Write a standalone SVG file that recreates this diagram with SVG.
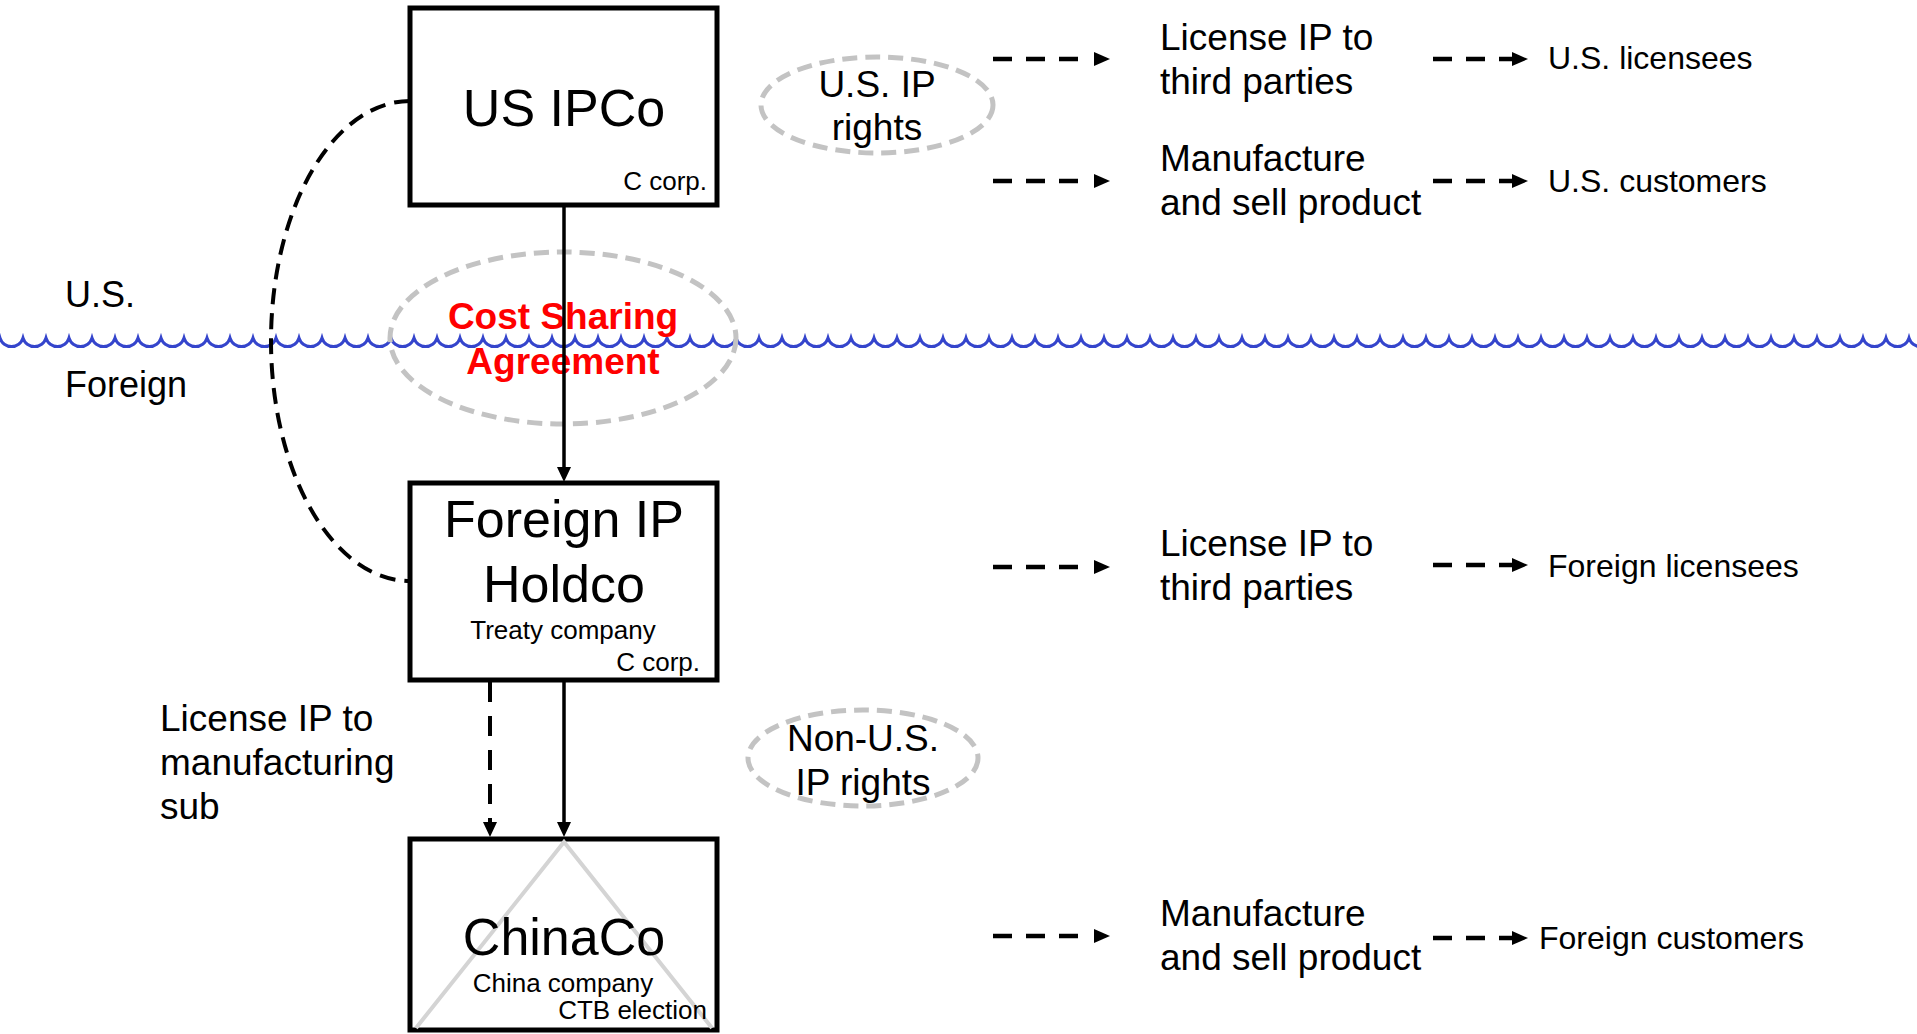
<svg xmlns="http://www.w3.org/2000/svg" xmlns:xlink="http://www.w3.org/1999/xlink" width="1917" height="1034" viewBox="0 0 1917 1034">
<style>
text{font-family:"Liberation Sans",Arial,Helvetica,sans-serif;fill:#000}
.big{font-size:52px;text-anchor:middle}
.small{font-size:26px}
.mid{font-size:37px}
.end{font-size:32px}
.box{fill:#fff;stroke:#000;stroke-width:5}
.oval{fill:none;stroke:#c3c3c3;stroke-width:5;stroke-dasharray:15 8}
.red{font-size:37px;font-weight:bold;fill:#f00;text-anchor:middle}
.c{text-anchor:middle}
.r{text-anchor:end}
.solid{stroke:#000;stroke-width:3.5;fill:none}
.dash{stroke:#000;stroke-width:4.5;fill:none;stroke-dasharray:19 14}
.curve{stroke:#000;stroke-width:4;fill:none;stroke-dasharray:16 9}
</style>
<defs>
<path id="headR" d="M0,-7 L16,0 L0,7 z" fill="#000"/>
<path id="headD" d="M-7,0 L7,0 L0,15 z" fill="#000"/>
<pattern id="wave" patternUnits="userSpaceOnUse" x="0" y="330" width="23" height="26">
<path d="M-23,8 a12,12 0 0 0 23,0 a12,12 0 0 0 23,0 a12,12 0 0 0 23,0" fill="none" stroke="#3545cc" stroke-width="3"/>
</pattern>
</defs>
<rect width="1917" height="1034" fill="#fff"/>

<g id="border">
<rect x="0" y="330" width="1917" height="26" fill="url(#wave)"/>
<text x="65" y="307" class="mid" style="font-size:36px">U.S.</text>
<text x="65" y="397" class="mid" style="font-size:36px">Foreign</text>
</g>

<g id="cost-sharing">
<ellipse cx="563" cy="338" rx="173" ry="86" class="oval"/>
<text x="563" y="329" class="red">Cost Sharing</text>
<text x="563" y="374" class="red">Agreement</text>
</g>

<g id="us-ip-rights">
<ellipse cx="877" cy="105" rx="116" ry="48" class="oval"/>
<text x="877" y="97" class="mid c">U.S. IP</text>
<text x="877" y="140" class="mid c">rights</text>
</g>

<g id="non-us-ip-rights">
<ellipse cx="863" cy="758" rx="115" ry="48" class="oval"/>
<text x="863" y="751" class="mid c">Non-U.S.</text>
<text x="863" y="795" class="mid c">IP rights</text>
</g>

<g id="us-license">
<text x="1160" y="50" class="mid">License IP to</text>
<text x="1160" y="94" class="mid">third parties</text>
</g>
<g id="us-manufacture">
<text x="1160" y="171" class="mid">Manufacture</text>
<text x="1160" y="215" class="mid">and sell product</text>
</g>
<g id="foreign-license">
<text x="1160" y="556" class="mid">License IP to</text>
<text x="1160" y="600" class="mid">third parties</text>
</g>
<g id="foreign-manufacture">
<text x="1160" y="926" class="mid">Manufacture</text>
<text x="1160" y="970" class="mid">and sell product</text>
</g>

<g id="us-licensees"><text x="1548" y="69" class="end">U.S. licensees</text></g>
<g id="us-customers"><text x="1548" y="192" class="end">U.S. customers</text></g>
<g id="foreign-licensees"><text x="1548" y="577" class="end">Foreign licensees</text></g>
<g id="foreign-customers"><text x="1539" y="949" class="end">Foreign customers</text></g>

<g id="license-manufacturing-label">
<text x="160" y="731" class="mid">License IP to</text>
<text x="160" y="775" class="mid">manufacturing</text>
<text x="160" y="819" class="mid">sub</text>
</g>

<g id="us-ipco">
<rect x="410" y="8" width="307" height="197" class="box"/>
<text x="564" y="126" class="big">US IPCo</text>
<text x="707" y="190" class="small r">C corp.</text>
</g>

<g id="foreign-ip-holdco">
<rect x="410" y="483" width="307" height="197" class="box"/>
<text x="564" y="537" class="big">Foreign IP</text>
<text x="564" y="602" class="big">Holdco</text>
<text x="563" y="639" class="small c">Treaty company</text>
<text x="700" y="671" class="small r">C corp.</text>
</g>

<g id="chinaco">
<rect x="410" y="839" width="307" height="191" class="box"/>
<polyline points="416,1028 564,842 712,1028" fill="none" stroke="#d4d4d4" stroke-width="4"/>
<text x="564" y="955" class="big">ChinaCo</text>
<text x="563" y="992" class="small c">China company</text>
<text x="707" y="1019" class="small r">CTB election</text>
</g>

<g id="connectors">
<path d="M410,101 A139,240 0 0 0 410,581" class="curve"/>
<line x1="564" y1="207" x2="564" y2="470" class="solid"/>
<use xlink:href="#headD" x="564" y="467"/>
<line x1="564" y1="682" x2="564" y2="826" class="solid"/>
<use xlink:href="#headD" x="564" y="822"/>
<line x1="490" y1="682" x2="490" y2="826" class="dash" style="stroke-width:4;stroke-dasharray:20 14"/>
<use xlink:href="#headD" x="490" y="822"/>

<line x1="993" y1="59" x2="1078" y2="59" class="dash"/>
<use xlink:href="#headR" x="1094" y="59"/>
<line x1="993" y1="181" x2="1078" y2="181" class="dash"/>
<use xlink:href="#headR" x="1094" y="181"/>
<line x1="993" y1="567" x2="1078" y2="567" class="dash"/>
<use xlink:href="#headR" x="1094" y="567"/>
<line x1="993" y1="936" x2="1078" y2="936" class="dash"/>
<use xlink:href="#headR" x="1094" y="936"/>

<line x1="1433" y1="59" x2="1514" y2="59" class="dash"/>
<use xlink:href="#headR" x="1512" y="59"/>
<line x1="1433" y1="181" x2="1514" y2="181" class="dash"/>
<use xlink:href="#headR" x="1512" y="181"/>
<line x1="1433" y1="565" x2="1514" y2="565" class="dash"/>
<use xlink:href="#headR" x="1512" y="565"/>
<line x1="1433" y1="938" x2="1514" y2="938" class="dash"/>
<use xlink:href="#headR" x="1512" y="938"/>
</g>
</svg>
